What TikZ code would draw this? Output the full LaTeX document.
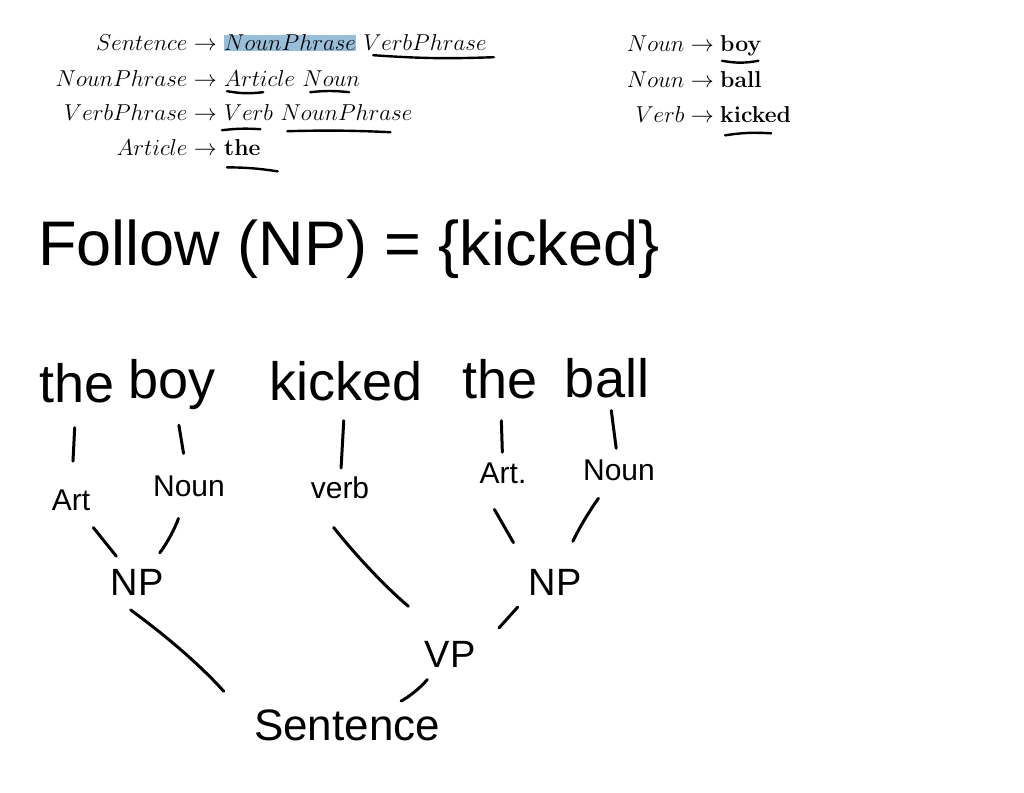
\RequirePackage{fix-cm}
\documentclass[tikz,border=0pt]{standalone}
\usepackage{fontspec}
\usepackage{xcolor}
\usepackage{tikz}
\usetikzlibrary{positioning}
\newfontfamily\handfont{Liberation Sans}
\definecolor{marked}{RGB}{151,191,218}

\begin{document}
\begin{tikzpicture}[
        x=1pt, y=-1pt,
        rule/.style={inner sep=0pt, font=\fontsize{23}{28}\selectfont},
        note/.style={inner sep=0pt, font=\handfont\fontsize{63}{70}\selectfont},
        word/.style={inner sep=0pt, font=\handfont\fontsize{54}{60}\selectfont},
        cat/.style={inner sep=0pt, font=\handfont\fontsize{30}{36}\selectfont},
        phrase/.style={inner sep=0pt, font=\handfont\fontsize{38}{44}\selectfont},
        uline/.style={line width=2.4pt, line cap=round},
        edge/.style={line width=3pt, line cap=round}
    ]
        \path[use as bounding box, fill=white] (0,0) rectangle (1024,792);

        % grammar, left column
        \node[rule, anchor=base east] (lhsA) at (217,51) {$Sentence \rightarrow$};
        \node[rule, anchor=base west, fill=marked] (npA) at (224,51) {$NounPhrase$};
        \node[rule, base right=7pt of npA] (vpA) {$VerbPhrase$};
        \node[rule, anchor=base east] (lhsB) at (217,86) {$NounPhrase \rightarrow$};
        \node[rule, anchor=base west] (artB) at (224,86) {$Article$};
        \node[rule, base right=7pt of artB] (nounB) {$Noun$};
        \node[rule, anchor=base east] (lhsC) at (217,120) {$VerbPhrase \rightarrow$};
        \node[rule, anchor=base west] (verbC) at (224,120) {$Verb$};
        \node[rule, base right=7pt of verbC] (npC) {$NounPhrase$};
        \node[rule, anchor=base east] (lhsD) at (217,155) {$Article \rightarrow$};
        \node[rule, anchor=base west] (theD) at (224,155) {\textbf{the}};

        % grammar, right column
        \node[rule, anchor=base east] (lhsE) at (714,52) {$Noun \rightarrow$};
        \node[rule, anchor=base west] (boyE) at (720,52) {\textbf{boy}};
        \node[rule, anchor=base east] (lhsF) at (714,87) {$Noun \rightarrow$};
        \node[rule, anchor=base west] (ballF) at (720,87) {\textbf{ball}};
        \node[rule, anchor=base east] (lhsG) at (714,122) {$Verb \rightarrow$};
        \node[rule, anchor=base west] (kickG) at (720,122) {\textbf{kicked}};

        % pen marks under the rules
        \draw[uline] ([shift={(10,4)}]vpA.south west) to[bend right=3] ([shift={(7,6)}]vpA.south east);
        \draw[uline] ([shift={(3,5)}]artB.south west) to[bend right=8] ([shift={(-32,6)}]artB.south east);
        \draw[uline] ([shift={(8,6)}]nounB.south west) to[bend left=6] ([shift={(-11,6)}]nounB.south east);
        \draw[uline] ([shift={(-2,10)}]verbC.south west) to[bend left=5] ([shift={(-13,9)}]verbC.south east);
        \draw[uline] ([shift={(7,11)}]npC.south west) to[bend left=2] ([shift={(-22,12)}]npC.south east);
        \draw[uline] ([shift={(3,12)}]theD.south west) to[bend left=4] ([shift={(17,16)}]theD.south east);
        \draw[uline] ([shift={(2,4)}]boyE.south west) to[bend right=10] ([shift={(-3,4)}]boyE.south east);
        \draw[uline] ([shift={(5,13)}]kickG.south west) to[bend left=6] ([shift={(-20,11)}]kickG.south east);

        \node[note, anchor=base west] (follow) at (38,265) {Follow (NP) = \{kicked\}};

        % sentence and its parse tree
        \node[word, anchor=base] (the1) at (77,402) {the};
        \node[word, anchor=base] (boy) at (172,398) {boy};
        \node[word, anchor=base] (kicked) at (346,400) {kicked};
        \node[word, anchor=base] (the2) at (500,398) {the};
        \node[word, anchor=base] (ball) at (607,397) {ball};

        \node[cat, anchor=base] (art1) at (71,510) {Art};
        \node[cat, anchor=base] (noun1) at (189,496) {Noun};
        \node[cat, anchor=base] (verb) at (340,498) {verb};
        \node[cat, anchor=base] (art2) at (503,483) {Art.};
        \node[cat, anchor=base] (noun2) at (619,480) {Noun};

        \node[phrase, anchor=base] (np1) at (137,595) {NP};
        \node[phrase, anchor=base] (np2) at (555,595) {NP};
        \node[phrase, anchor=base] (vp) at (450,667) {VP};
        \node[phrase, anchor=base, font=\handfont\fontsize{44}{50}\selectfont] (sentence) at (347,740) {Sentence};

        \draw[edge, shorten <=25pt, shorten >=28pt] (the1) -- (art1);
        \draw[edge, shorten <=16pt, shorten >=22pt] (boy) -- (noun1);
        \draw[edge, shorten <=20pt, shorten >=8pt] (kicked) -- (verb);
        \draw[edge, shorten <=22pt, shorten >=10pt] (the2) -- (art2);
        \draw[edge, shorten <=13pt, shorten >=11pt] (ball) -- (noun2);

        \draw[edge, shorten <=22pt, shorten >=16pt] (art1) -- (np1);
        \draw[edge, shorten <=23pt, shorten >=20pt] (noun1) to[bend left=10] (np1);
        \draw[edge, shorten <=30pt, shorten >=30pt] (art2.south west) -- (np2.north west);
        \draw[edge, shorten <=22pt, shorten >=30pt] (noun2) to[bend right=6] (np2);
        \draw[edge, shorten <=37pt, shorten >=54pt] (verb.south west) to[bend right=6] (vp.north);

        \draw[edge, shorten <=25pt, shorten >=45pt] (np1.south west) to[bend left=6] (sentence.west);
        \draw[edge, shorten <=16pt, shorten >=35pt] (np2.south west) -- (vp.east);
        \draw[edge, shorten <=16pt, shorten >=18pt] (vp) to[bend left=12] (sentence);
    \end{tikzpicture}
\end{document}
